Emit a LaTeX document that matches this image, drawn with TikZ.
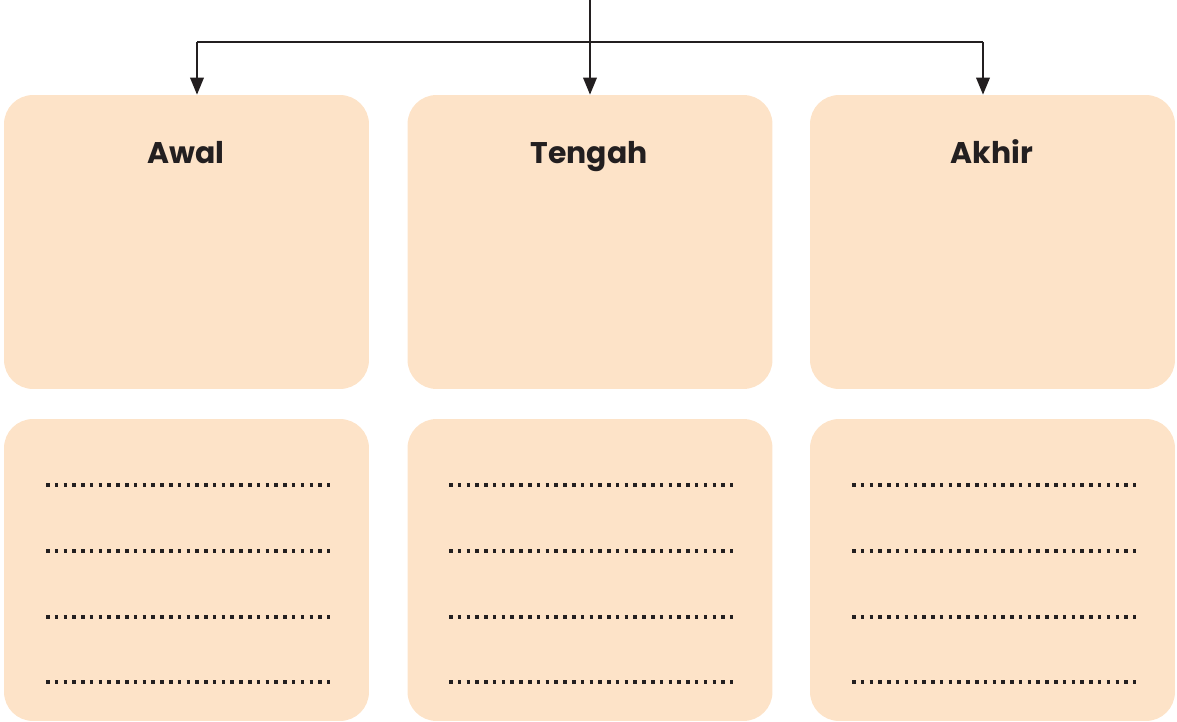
\documentclass[tikz,border=0pt]{standalone}
\usepackage{fontspec}
\setmainfont{Poppins}
\usetikzlibrary{arrows.meta,calc}
\definecolor{BoxClr}{HTML}{FDE3C8}
\definecolor{InkClr}{HTML}{231F20}

\tikzset{
  panel/.style={fill=BoxClr,draw=none,rounded corners=0.58cm,minimum width=7.3cm,inner sep=0pt},
  toppanel/.style={panel,minimum height=5.88cm},
  lowpanel/.style={panel,minimum height=6.04cm},
  heading/.style={text=InkClr,font=\bfseries\fontsize{17}{20}\selectfont,inner sep=0pt},
  link/.style={draw=InkClr,line width=1.1pt},
  linkarrow/.style={link,-{Triangle[length=0.34cm,width=0.27cm]}},
  fillin/.style={draw=InkClr,line width=2pt,dash pattern=on 2pt off 3pt}
}

\begin{document}
\begin{tikzpicture}[x=0.02cm,y=-0.02cm]
\useasboundingbox (0,0) rectangle (1177,722);

\node[toppanel] (awal) at (186.5,242) {};
\node[toppanel] (tengah) at (590,242) {};
\node[toppanel] (akhir) at (992.5,242) {};

\node[lowpanel] (awalIsi) at (186.5,570) {};
\node[lowpanel] (tengahIsi) at (590,570) {};
\node[lowpanel] (akhirIsi) at (992.5,570) {};

\node[heading,anchor=base] (tAwal) at (186,164) {Awal};
\node[heading,anchor=base] (tTengah) at (589,164) {Tengah};
\node[heading,anchor=base] (tAkhir) at (992,164) {Akhir};

\coordinate (src) at (590,0);
\coordinate (jL) at (197,42);
\coordinate (jR) at (983,42);

\draw[link] (jL) -- (jR);
\draw[linkarrow] (src) -- (tengah.north);
\draw[linkarrow] (jL) -- (jL |- awal.north);
\draw[linkarrow] (jR) -- (jR |- akhir.north);

\foreach \col in {0,403,806}{
  \foreach \row in {485,551,617,682}{
    \coordinate (a) at (46+\col,\row);
    \coordinate (b) at (330+\col,\row);
    \draw[fillin] (a) -- (b);
  }
}

\end{tikzpicture}
\end{document}
